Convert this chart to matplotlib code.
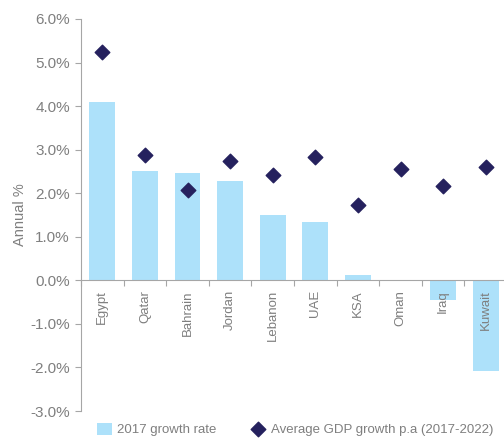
import numpy as np
import matplotlib.pyplot as plt
from matplotlib.ticker import FuncFormatter, FixedLocator

countries = ["Egypt", "Qatar", "Bahrain", "Jordan", "Lebanon", "UAE", "KSA", "Oman", "Iraq", "Kuwait"]
growth_2017 = [4.09, 2.51, 2.47, 2.29, 1.49, 1.33, 0.13, -0.01, -0.46, -2.08]
avg_growth = [5.25, 2.88, 2.08, 2.73, 2.41, 2.84, 1.72, 2.56, 2.16, 2.60]

BAR_COLOR = "#ADE1FA"
DIAMOND_COLOR = "#25215E"
TEXT_COLOR = "#7F7F7F"
AXIS_COLOR = "#A6A6A6"

plt.rcParams['font.family'] = ['Liberation Sans', 'DejaVu Sans']
plt.rcParams['font.size'] = 10

fig = plt.figure(figsize=(5.04, 4.4), dpi=100)
ax = fig.add_axes([81 / 504, 1 - 411 / 440, 426 / 504, (411 - 19) / 440])
ax.set_axisbelow(False)  # country labels sit on top of the bars

x = np.arange(len(countries))
bars = ax.bar(x, growth_2017, width=0.61, color=BAR_COLOR, label="2017 growth rate", zorder=1)
pts = ax.scatter(x, avg_growth, marker="D", s=55, color=DIAMOND_COLOR, zorder=3,
                 label="Average GDP growth p.a (2017-2022)")

ax.set_xlim(-0.5, len(countries) - 0.5)
ax.set_ylim(-3, 6)
ax.set_yticks(np.arange(-3, 7, 1))
ax.yaxis.set_major_formatter(FuncFormatter(lambda v, p: f"{v:.1f}%"))

ax.spines['top'].set_visible(False)
ax.spines['right'].set_visible(False)
ax.spines['bottom'].set_position(('data', 0))
for s in ['left', 'bottom']:
    ax.spines[s].set_color(AXIS_COLOR)
    ax.spines[s].set_linewidth(0.8)

ax.set_xticks(x)
ax.set_xticklabels(countries, rotation=90, color=TEXT_COLOR, fontsize=9.5)
ax.tick_params(axis='x', which='major', length=0, pad=7)
ax.xaxis.set_minor_locator(FixedLocator(np.arange(-0.5, len(countries), 1)))
ax.tick_params(axis='x', which='minor', length=4, color=AXIS_COLOR, width=0.8)
ax.tick_params(axis='y', length=4, color=AXIS_COLOR, width=0.8, labelcolor=TEXT_COLOR,
               labelsize=11, pad=4)

ax.set_ylabel("Annual %", color=TEXT_COLOR, fontsize=10.5, labelpad=2)

fig.legend(handles=[bars, pts], loc="lower left", bbox_to_anchor=(92 / 504, -0.004), ncol=2,
           frameon=False, fontsize=9.5, labelcolor=TEXT_COLOR, handlelength=1.1,
           handleheight=1.1, handletextpad=0.4, columnspacing=2.6, borderaxespad=0)

fig.savefig("out.png", dpi=100)
